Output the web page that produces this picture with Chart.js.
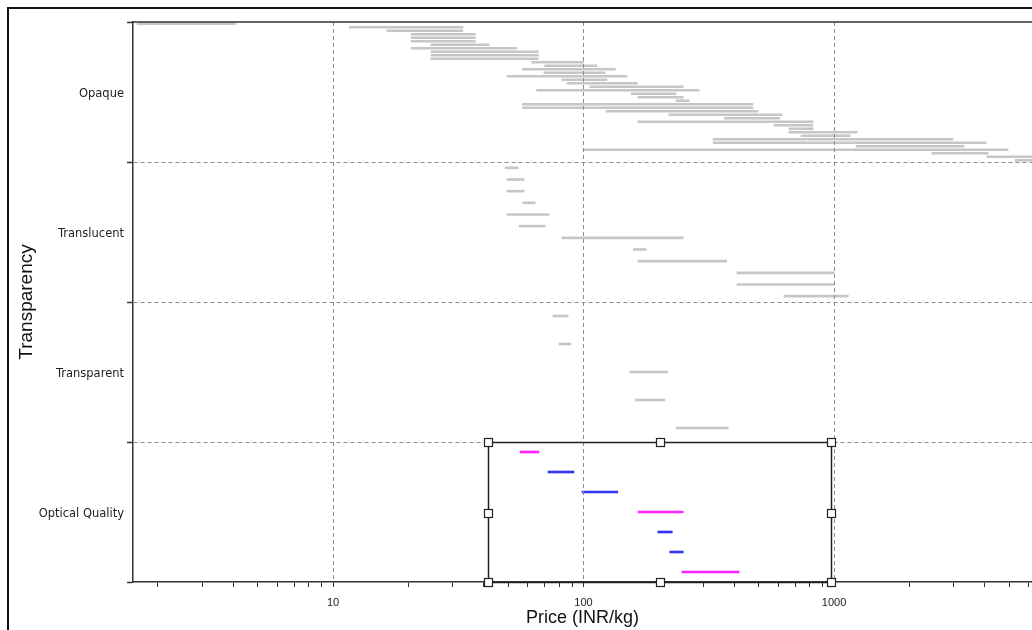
<!DOCTYPE html>
<html><head><meta charset="utf-8">
<script src="https://cdn.jsdelivr.net/npm/chart.js@4"></script>
<style>
html,body{margin:0;padding:0;background:#fff;overflow:hidden;width:1032px;height:630px;}
#frame{position:absolute;left:7px;top:7px;width:1100px;height:700px;border-left:2px solid #111;border-top:2px solid #111;}
#c{position:absolute;left:0;top:0;}
</style></head><body>
<div id="frame"></div>
<canvas id="c" width="1032" height="630"></canvas>
<script>
// ---------- data ----------
const categories = ['Opaque', 'Translucent', 'Transparent', 'Optical Quality'];
const xMajorTicks = [10, 100, 1000];
const xRange = [1.59, 6170];

const opaqueRanges = [
  [1.65, 4.1], [11.6, 33], [16.4, 33], [20.5, 37], [20.5, 37], [20.5, 37], [24.6, 42], [20.5, 54],
  [24.6, 66], [24.6, 66], [24.6, 66], [62, 100], [70, 113], [57, 134], [69.5, 122], [49.5, 149],
  [82, 124], [86, 164], [106, 250], [65, 289], [155, 234], [165, 250], [234, 264], [57, 475],
  [57, 475], [123, 497], [219, 620], [364, 608], [165, 824], [576, 824], [661, 824], [661, 1236],
  [738, 1158], [329, 2985], [329, 4044], [1224, 3303], [99.5, 4950], [2460, 4120], [4080, 7000], [5280, 6200]
];
const translucentRanges = [
  [48.6, 54.8], [49.5, 57.9], [49.5, 57.9], [57.3, 64.1], [49.5, 72.8], [55.3, 70.2],
  [82, 250], [158, 178], [165, 373], [410, 1000], [410, 1000], [632, 1140]
];
const transparentRanges = [
  [75.5, 86.7], [79.8, 89.1], [153, 217], [161, 211], [234, 378]
];
const opticalRanges = [
  [55.8, 66.4], [72.1, 91.6], [98.6, 137], [165, 250], [198, 226], [221, 250], [247, 418]
];
const opticalKinds = ['pink', 'blue', 'blue', 'pink', 'blue', 'blue', 'pink'];

const selection = { xMin: 41.6, xMax: 973, category: 'Optical Quality' };

// ---------- build ----------
const kindColor = { grey: '#c6c6c6', pink: '#ff22ff', blue: '#3434f4' };
const groups = [
  { ranges: opaqueRanges, kinds: opaqueRanges.map(() => 'grey') },
  { ranges: translucentRanges, kinds: translucentRanges.map(() => 'grey') },
  { ranges: transparentRanges, kinds: transparentRanges.map(() => 'grey') },
  { ranges: opticalRanges, kinds: opticalKinds }
];
const points = [];
const pointKinds = [];
groups.forEach((g, gi) => {
  const n = g.ranges.length;
  g.ranges.forEach((r, i) => {
    points.push({ x: r, y: gi + (i + 0.5) / n });
    pointKinds.push(g.kinds[i]);
  });
});

const xTickValues = [];
for (let e = 0; e <= 3; e++) {
  for (let s = 1; s <= 9; s++) {
    const v = s * Math.pow(10, e);
    if (v > xRange[0] && v < xRange[1]) xTickValues.push(v);
  }
}

const extras = {
  id: 'extras',
  afterDraw(chart) {
    const { ctx, chartArea: a, scales: { x, y } } = chart;
    ctx.save();
    // top border of plot
    ctx.strokeStyle = '#333';
    ctx.lineWidth = 1.5;
    ctx.beginPath();
    ctx.moveTo(a.left, a.top);
    ctx.lineTo(a.right, a.top);
    ctx.stroke();
    // selection rectangle
    const ci = categories.indexOf(selection.category);
    const x1 = Math.round(x.getPixelForValue(selection.xMin)) + 0.5;
    const x2 = Math.round(x.getPixelForValue(selection.xMax)) + 0.5;
    const y1 = Math.round(y.getPixelForValue(ci)) + 0.5;
    const y2 = Math.round(y.getPixelForValue(ci + 1)) + 0.5;
    ctx.strokeStyle = '#222';
    ctx.lineWidth = 1.5;
    ctx.strokeRect(x1, y1, x2 - x1, y2 - y1);
    const xm = Math.round((x1 + x2) / 2) + 0.5, ym = Math.round((y1 + y2) / 2) + 0.5;
    const handles = [[x1, y1], [xm, y1], [x2, y1], [x1, ym], [x2, ym], [x1, y2], [xm, y2], [x2, y2]];
    ctx.lineWidth = 1.2;
    handles.forEach(([hx, hy]) => {
      ctx.fillStyle = '#fff';
      ctx.fillRect(hx - 4, hy - 4, 8, 8);
      ctx.strokeRect(hx - 4, hy - 4, 8, 8);
    });
    ctx.restore();
  }
};

new Chart(document.getElementById('c'), {
  type: 'bar',
  data: {
    datasets: [{
      data: points,
      backgroundColor: (c) => kindColor[pointKinds[c.dataIndex]] || '#c6c6c6',
      borderWidth: 0,
      barThickness: 2
    }]
  },
  options: {
    indexAxis: 'y',
    responsive: false,
    animation: false,
    devicePixelRatio: 1,
    layout: { padding: { top: 22, left: 0, right: 0, bottom: 0 } },
    plugins: { legend: { display: false }, tooltip: { enabled: false } },
    scales: {
      x: {
        type: 'logarithmic',
        min: xRange[0],
        max: xRange[1],
        offset: false,
        afterBuildTicks: (s) => { s.ticks = xTickValues.map(v => ({ value: v, major: xMajorTicks.includes(v) })); },
        afterFit: (s) => { s.height = 48; s.paddingLeft = 0; s.paddingRight = 0; },
        ticks: {
          autoSkip: false,
          maxRotation: 0,
          padding: 9,
          color: '#222',
          font: { family: 'Liberation Sans, Arial, sans-serif', size: 11 },
          callback: (v) => (xMajorTicks.includes(v) ? String(v) : '')
        },
        grid: {
          z: 1,
          offset: false,
          drawOnChartArea: true,
          color: (c) => (c.tick && xMajorTicks.includes(c.tick.value) ? '#8c8c8c' : 'rgba(0,0,0,0)'),
          lineWidth: 1,
          tickColor: '#333',
          tickLength: 5,
          tickWidth: 1
        },
        border: { display: true, z: 1, color: '#333', width: 1.5, dash: [4, 3] },
        title: {
          display: true,
          text: 'Price (INR/kg)',
          color: '#111',
          font: { family: 'Liberation Sans, Arial, sans-serif', size: 18 },
          padding: { top: 0, bottom: 1 }
        }
      },
      y: {
        type: 'linear',
        min: 0,
        max: categories.length,
        reverse: true,
        offset: false,
        afterBuildTicks: (s) => {
          const t = [];
          for (let i = 0; i <= categories.length * 2; i++) t.push({ value: i / 2 });
          s.ticks = t;
        },
        afterFit: (s) => { s.width = 133; s.paddingTop = 0; s.paddingBottom = 0; },
        ticks: {
          autoSkip: false,
          padding: 3,
          labelOffset: 2,
          color: '#222',
          font: { family: 'DejaVu Sans, Verdana, sans-serif', size: 11.5 },
          callback: (v) => (v % 1 === 0.5 ? categories[Math.floor(v)] : '')
        },
        grid: {
          z: 1,
          offset: false,
          color: (c) => {
            const v = c.tick ? c.tick.value : -1;
            return (Number.isInteger(v) && v > 0 && v < categories.length) ? '#8c8c8c' : 'rgba(0,0,0,0)';
          },
          lineWidth: 1,
          tickColor: (c) => (c.tick && Number.isInteger(c.tick.value) ? '#333' : 'rgba(0,0,0,0)'),
          tickLength: 6,
          tickWidth: 1.5
        },
        border: { display: true, z: 1, color: '#333', width: 1.5, dash: [4, 3] },
        title: {
          display: true,
          text: 'Transparency',
          color: '#111',
          font: { family: 'Liberation Sans, Arial, sans-serif', size: 19 },
          padding: { top: 15, bottom: 0 }
        }
      }
    }
  },
  plugins: [extras]
});
</script></body></html>
